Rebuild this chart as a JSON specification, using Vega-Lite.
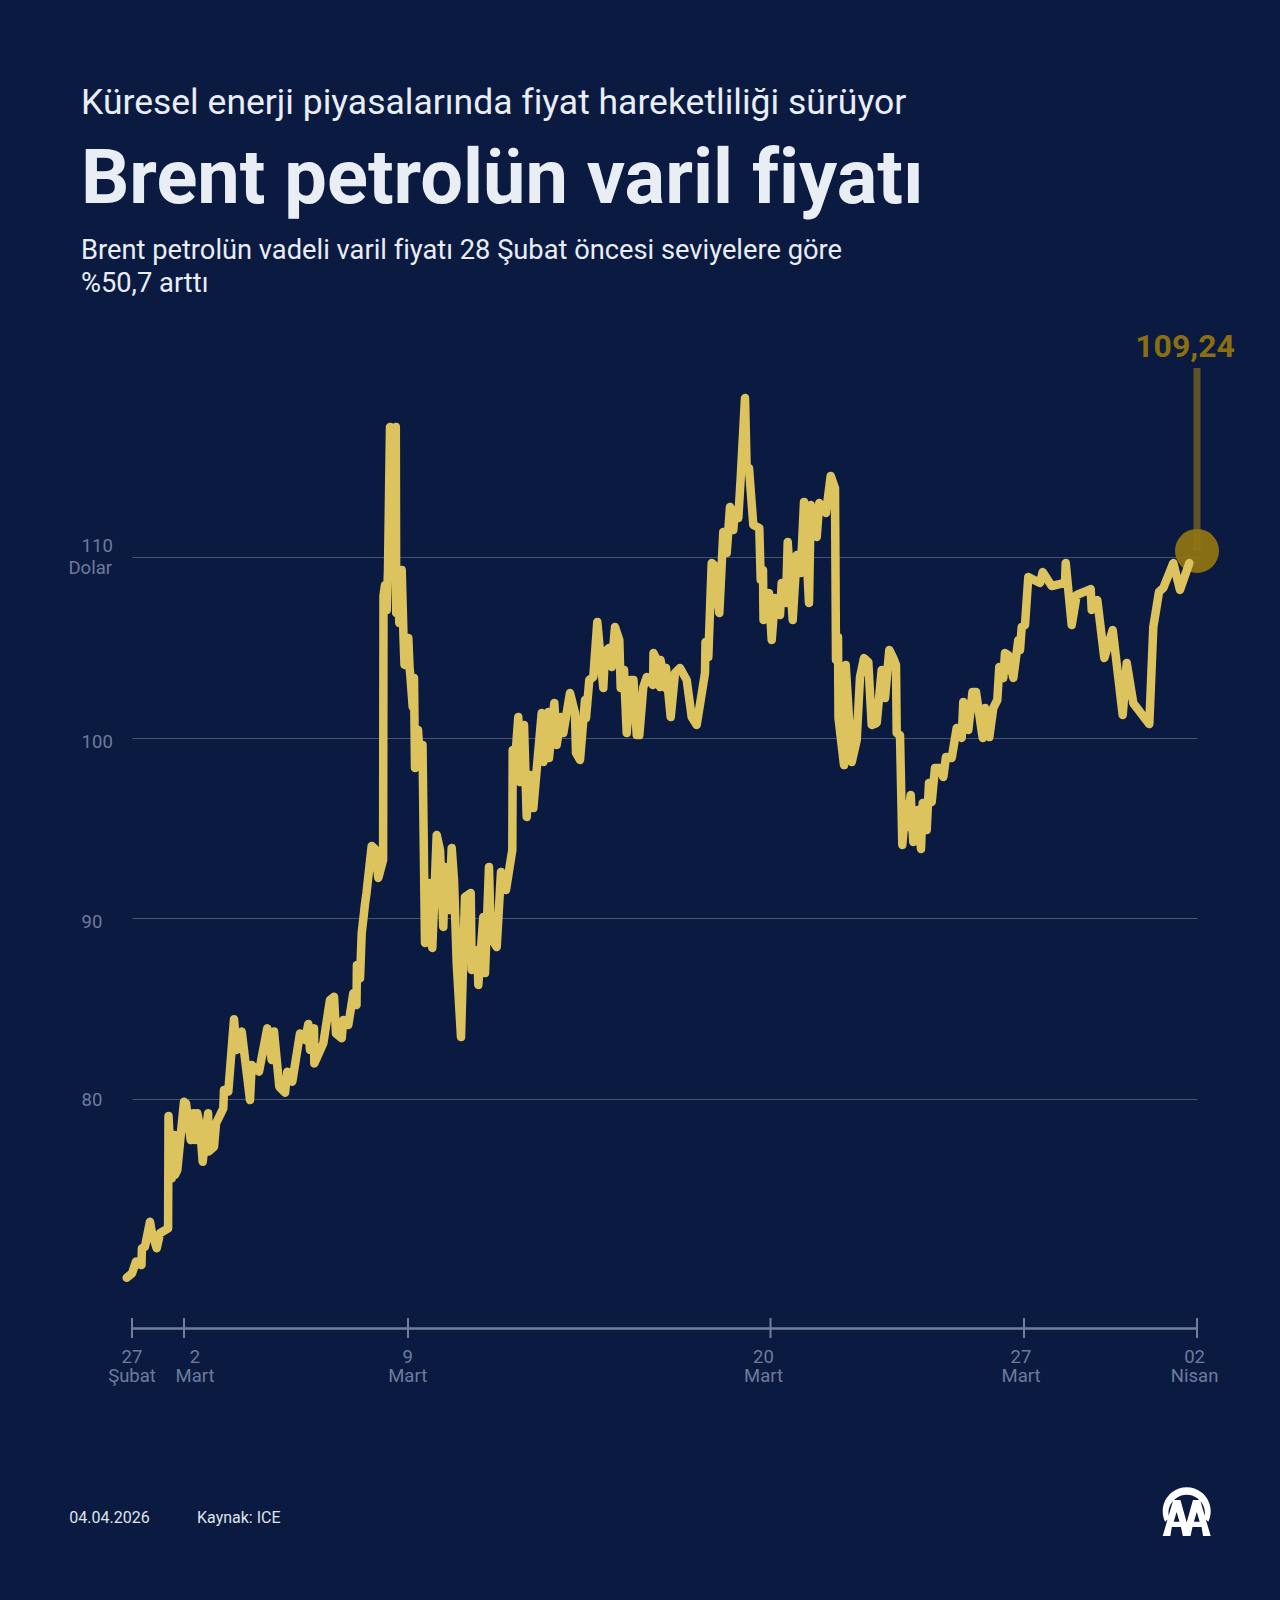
{
  "$schema": "https://vega.github.io/schema/vega-lite/v6.json",
  "background": "#0b1a41",
  "autosize": "none",
  "padding": {"left": 132, "right": 83, "top": 300, "bottom": 272},
  "width": 1065,
  "height": 1028,
  "config": {"view": {"stroke": null}, "font": "Roboto"},
  "datasets": {
    "brent": [
      {"t":-5.3,"price":70.11},{"t":0,"price":70.35},{"t":4,"price":71.0},{"t":9.5,"price":70.81},{"t":9.9,"price":71.74},{"t":13,"price":71.83},{"t":18,"price":73.21},{"t":20,"price":72.57},{"t":24.7,"price":71.74},{"t":28,"price":72.57},{"t":36.1,"price":72.84},{"t":36.5,"price":79.06},{"t":39.7,"price":75.61},{"t":42.3,"price":78.01},{"t":43,"price":75.79},{"t":45.3,"price":76.07},{"t":52,"price":79.85},{"t":54,"price":79.76},{"t":58.7,"price":77.73},{"t":61.3,"price":79.21},{"t":63,"price":77.73},{"t":65.3,"price":79.21},{"t":68,"price":78.47},{"t":70.7,"price":76.53},{"t":76.1,"price":79.21},{"t":76.5,"price":77.09},{"t":82,"price":77.36},{"t":84,"price":78.65},{"t":91.3,"price":79.48},{"t":92,"price":80.5},{"t":96.3,"price":80.41},{"t":102,"price":84.41},{"t":104.7,"price":82.71},{"t":109.7,"price":83.73},{"t":118,"price":79.94},{"t":119.7,"price":81.88},{"t":127,"price":81.51},{"t":135.3,"price":83.91},{"t":139.7,"price":82.16},{"t":142,"price":83.73},{"t":147.3,"price":80.68},{"t":153,"price":80.35},{"t":155.3,"price":81.51},{"t":160.3,"price":80.96},{"t":168,"price":83.63},{"t":173,"price":83.27},{"t":176.3,"price":84.15},{"t":178,"price":82.71},{"t":182,"price":83.91},{"t":182.3,"price":81.97},{"t":191.3,"price":83.08},{"t":198,"price":85.48},{"t":202,"price":85.66},{"t":204,"price":83.63},{"t":209.7,"price":83.36},{"t":211.3,"price":84.37},{"t":216.3,"price":84.1},{"t":221.3,"price":85.85},{"t":224.5,"price":85.2},{"t":224.9,"price":87.42},{"t":228,"price":86.68},{"t":229.7,"price":89.17},{"t":233,"price":90.79},{"t":234.5,"price":91.4},{"t":239.7,"price":94.0},{"t":243,"price":93.84},{"t":246.3,"price":92.23},{"t":251.1,"price":93.23},{"t":251.5,"price":107.84},{"t":253,"price":108.44},{"t":254.7,"price":107.06},{"t":256,"price":109.27},{"t":258,"price":117.19},{"t":261,"price":112.04},{"t":263.8,"price":117.19},{"t":264.2,"price":106.9},{"t":265.5,"price":109.27},{"t":267.3,"price":106.34},{"t":269.7,"price":109.27},{"t":271.5,"price":105.57},{"t":272.5,"price":104.02},{"t":276.3,"price":105.51},{"t":277.5,"price":103.91},{"t":278.5,"price":103.35},{"t":280.7,"price":101.69},{"t":282,"price":103.3},{"t":283,"price":98.32},{"t":286,"price":100.42},{"t":288,"price":98.76},{"t":290.5,"price":99.59},{"t":293,"price":88.63},{"t":296.3,"price":91.95},{"t":300.3,"price":88.36},{"t":304.7,"price":94.61},{"t":308,"price":93.78},{"t":311.3,"price":89.52},{"t":313,"price":92.84},{"t":317.3,"price":90.46},{"t":319.7,"price":93.89},{"t":322,"price":92.12},{"t":324.7,"price":87.53},{"t":329,"price":83.43},{"t":333,"price":91.18},{"t":338.7,"price":91.4},{"t":339.7,"price":87.14},{"t":345.3,"price":88.25},{"t":346.3,"price":86.31},{"t":351.3,"price":90.07},{"t":353,"price":86.97},{"t":357,"price":92.84},{"t":358.7,"price":88.97},{"t":364.7,"price":88.41},{"t":369,"price":92.56},{"t":374,"price":91.57},{"t":380.3,"price":93.78},{"t":380.7,"price":99.31},{"t":381.5,"price":97.54},{"t":386.3,"price":101.14},{"t":388,"price":97.54},{"t":392,"price":100.7},{"t":394.7,"price":95.61},{"t":398,"price":97.93},{"t":401.3,"price":96.1},{"t":409.7,"price":101.36},{"t":411.3,"price":98.65},{"t":416.3,"price":101.42},{"t":417,"price":98.87},{"t":422.3,"price":101.91},{"t":424.7,"price":99.59},{"t":428.7,"price":101.14},{"t":431.3,"price":100.25},{"t":438,"price":102.47},{"t":443,"price":101.36},{"t":444,"price":99.15},{"t":448,"price":98.76},{"t":453,"price":102.08},{"t":454,"price":101.08},{"t":457.3,"price":103.19},{"t":461.3,"price":103.35},{"t":465.3,"price":106.4},{"t":471.3,"price":102.74},{"t":473,"price":104.74},{"t":477,"price":104.96},{"t":479.7,"price":103.91},{"t":483,"price":106.12},{"t":487.3,"price":105.4},{"t":488.7,"price":102.74},{"t":492,"price":103.74},{"t":494.7,"price":100.25},{"t":498.7,"price":103.19},{"t":501.5,"price":103.19},{"t":504.7,"price":100.14},{"t":507.3,"price":100.14},{"t":511.3,"price":102.8},{"t":514.7,"price":103.35},{"t":521,"price":102.91},{"t":521.5,"price":104.68},{"t":524,"price":104.4},{"t":528,"price":102.8},{"t":528.5,"price":104.29},{"t":533.5,"price":102.74},{"t":534,"price":103.85},{"t":538.7,"price":101.14},{"t":543,"price":103.57},{"t":548,"price":103.85},{"t":554.7,"price":103.19},{"t":559.7,"price":101.14},{"t":564.7,"price":100.7},{"t":573,"price":103.57},{"t":573.5,"price":105.29},{"t":576.3,"price":104.46},{"t":579.7,"price":109.66},{"t":582,"price":109.55},{"t":587.3,"price":106.9},{"t":591.3,"price":111.38},{"t":594.7,"price":110.22},{"t":598,"price":112.76},{"t":601.3,"price":111.49},{"t":603,"price":112.6},{"t":606.3,"price":112.15},{"t":608.7,"price":114.37},{"t":613,"price":118.79},{"t":614.7,"price":114.81},{"t":617,"price":114.92},{"t":621.3,"price":111.77},{"t":627.3,"price":111.6},{"t":628.7,"price":108.72},{"t":631,"price":109.27},{"t":631.5,"price":106.51},{"t":637,"price":108.0},{"t":639.7,"price":105.4},{"t":643,"price":107.73},{"t":648,"price":106.78},{"t":649.7,"price":108.56},{"t":654,"price":107.45},{"t":655.7,"price":110.82},{"t":660.7,"price":106.51},{"t":664.7,"price":110.1},{"t":668.7,"price":109.11},{"t":672,"price":113.04},{"t":677,"price":107.45},{"t":678.7,"price":112.87},{"t":684.7,"price":111.1},{"t":687.3,"price":112.98},{"t":694,"price":112.43},{"t":698.7,"price":114.48},{"t":703,"price":113.81},{"t":704,"price":104.29},{"t":706,"price":105.57},{"t":706.5,"price":101.08},{"t":712,"price":98.48},{"t":713.7,"price":104.02},{"t":719.7,"price":98.65},{"t":724.7,"price":99.87},{"t":728,"price":103.35},{"t":732,"price":104.4},{"t":736.3,"price":104.18},{"t":739.7,"price":100.7},{"t":744.7,"price":100.81},{"t":749.7,"price":103.74},{"t":753,"price":102.19},{"t":757.3,"price":104.85},{"t":761.3,"price":104.4},{"t":764,"price":104.02},{"t":764.7,"price":100.25},{"t":768,"price":100.14},{"t":770.3,"price":94.06},{"t":773.7,"price":96.27},{"t":775.3,"price":95.05},{"t":778.7,"price":96.82},{"t":781.3,"price":94.22},{"t":785.7,"price":95.99},{"t":789,"price":93.84},{"t":790.7,"price":96.38},{"t":794.7,"price":94.89},{"t":797,"price":97.49},{"t":799.7,"price":96.44},{"t":803,"price":98.32},{"t":808,"price":98.32},{"t":811.3,"price":97.82},{"t":814,"price":98.93},{"t":819.7,"price":98.87},{"t":824.7,"price":100.53},{"t":829.7,"price":99.98},{"t":831.3,"price":101.97},{"t":836.3,"price":100.42},{"t":840.5,"price":102.52},{"t":844,"price":102.52},{"t":850.7,"price":99.98},{"t":853,"price":101.64},{"t":857.3,"price":100.03},{"t":861.3,"price":101.64},{"t":865.3,"price":102.08},{"t":867.3,"price":103.91},{"t":871.3,"price":103.3},{"t":873,"price":104.68},{"t":876.3,"price":104.57},{"t":881.3,"price":103.3},{"t":886.3,"price":105.4},{"t":888,"price":104.85},{"t":889.7,"price":106.12},{"t":893,"price":106.23},{"t":896.3,"price":108.89},{"t":908,"price":108.56},{"t":910.7,"price":109.16},{"t":919.7,"price":108.39},{"t":933,"price":108.56},{"t":933.7,"price":109.66},{"t":939.7,"price":106.23},{"t":944.7,"price":107.89},{"t":958.7,"price":108.22},{"t":959.7,"price":107.06},{"t":965.3,"price":107.61},{"t":972.3,"price":104.4},{"t":980.7,"price":105.95},{"t":990.7,"price":101.25},{"t":994.7,"price":104.13},{"t":1001.3,"price":101.91},{"t":1017.3,"price":100.75},{"t":1021.3,"price":106.12},{"t":1027,"price":108.06},{"t":1031.3,"price":108.28},{"t":1041.3,"price":109.66},{"t":1048,"price":108.17},{"t":1057.3,"price":109.66}
    ]
  },
  "data": {"name": "brent"},
  "encoding": {
    "x": {
      "field": "t",
      "type": "quantitative",
      "scale": {"domain": [0, 1065], "nice": false, "zero": false},
      "axis": {
        "title": null,
        "values": [0, 52, 276, 638.5, 892, 1065],
        "labels": false,
        "ticks": false,
        "grid": false,
        "domainColor": "#727e9c",
        "domainWidth": 2.5
      }
    },
    "y": {
      "field": "price",
      "type": "quantitative",
      "scale": {"domain": [67.327, 124.217], "nice": false, "zero": false},
      "axis": {
        "title": null,
        "values": [80, 90, 100, 110],
        "grid": true,
        "gridColor": "#475373",
        "gridWidth": 1,
        "domain": false,
        "ticks": false,
        "labels": false
      }
    }
  },
  "layer": [
    {
      "data": {"values": [
        {"t": 0, "price": 66.77, "price2": 67.88},
        {"t": 52, "price": 66.77, "price2": 67.88},
        {"t": 276, "price": 66.77, "price2": 67.88},
        {"t": 638.5, "price": 66.77, "price2": 67.88},
        {"t": 892, "price": 66.77, "price2": 67.88},
        {"t": 1065, "price": 66.77, "price2": 67.88}
      ]},
      "mark": {"type": "rule", "color": "#727e9c", "strokeWidth": 2},
      "encoding": {"y2": {"field": "price2"}}
    },
    {
      "data": {"values": [{"t": 1065, "price": 110.33, "price2": 120.45}]},
      "mark": {"type": "rule", "color": "#5e5228", "strokeWidth": 7},
      "encoding": {"y2": {"field": "price2"}}
    },
    {
      "data": {"values": [{"t": 1065, "price": 110.33}]},
      "mark": {"type": "circle", "color": "#927511", "opacity": 0.92, "size": 1936}
    },
    {
      "mark": {"type": "line", "color": "#dcc35e", "strokeWidth": 8.5, "strokeJoin": "round", "strokeCap": "round", "clip": false}
    },
    {
      "data": {"values": [{"t": 1053, "price": 121.62, "label": "109,24"}]},
      "mark": {"type": "text", "color": "#8a6e10", "font": "Roboto", "fontWeight": "bold", "fontSize": 32, "baseline": "middle"},
      "encoding": {"text": {"field": "label"}}
    },
    {
      "data": {"values": [
        {"t": 0, "price": 66.22, "label": "27\nŞubat"},
        {"t": 63, "price": 66.22, "label": "2\nMart"},
        {"t": 275.7, "price": 66.22, "label": "9\nMart"},
        {"t": 631.5, "price": 66.22, "label": "20\nMart"},
        {"t": 889, "price": 66.22, "label": "27\nMart"},
        {"t": 1062.6, "price": 66.22, "label": "02\nNisan"}
      ]},
      "mark": {"type": "text", "color": "#6e7b9d", "font": "Roboto", "fontSize": 18.5, "lineBreak": "\n", "lineHeight": 19, "align": "center", "baseline": "top"},
      "encoding": {"text": {"field": "label"}}
    },
    {
      "data": {"values": [
        {"t": -50.4, "price": 110.6, "label": "110"},
        {"t": -50.4, "price": 99.76, "label": "100"},
        {"t": -50.4, "price": 89.82, "label": "90"},
        {"t": -50.4, "price": 79.95, "label": "80"}
      ]},
      "mark": {"type": "text", "color": "#6e7b9d", "font": "Roboto", "fontSize": 18.5, "align": "left", "baseline": "middle"},
      "encoding": {"text": {"field": "label"}}
    },
    {
      "data": {"values": [{"t": -20, "price": 109.39, "label": "Dolar"}]},
      "mark": {"type": "text", "color": "#6e7b9d", "font": "Roboto", "fontSize": 18.5, "align": "right", "baseline": "middle"},
      "encoding": {"text": {"field": "label"}}
    },
    {
      "data": {"values": [{"t": -51, "price": 134.5, "label": "Küresel enerji piyasalarında f‌iyat hareketliliği sürüyor"}]},
      "mark": {"type": "text", "color": "#e9edf4", "font": "Roboto", "fontSize": 35.5, "align": "left", "baseline": "alphabetic"},
      "encoding": {"text": {"field": "label"}}
    },
    {
      "data": {"values": [{"t": -51, "price": 129.6, "label": "Brent petrolün varil f‌iyatı"}]},
      "mark": {"type": "text", "color": "#e9edf4", "font": "Roboto", "fontWeight": "bold", "fontSize": 75.8, "align": "left", "baseline": "alphabetic"},
      "encoding": {"text": {"field": "label"}}
    },
    {
      "data": {"values": [
        {"t": -51, "price": 126.47, "label": "Brent petrolün vadeli varil f‌iyatı 28 Şubat öncesi seviyelere göre"},
        {"t": -51, "price": 124.68, "label": "%50,7 arttı"}
      ]},
      "mark": {"type": "text", "color": "#e9edf4", "font": "Roboto", "fontSize": 27.27, "align": "left", "baseline": "alphabetic"},
      "encoding": {"text": {"field": "label"}}
    },
    {
      "data": {"values": [
        {"t": -62.7, "price": 56.81, "label": "04.04.2026"},
        {"t": 65, "price": 56.81, "label": "Kaynak: ICE"}
      ]},
      "mark": {"type": "text", "color": "#dfe3ea", "font": "Roboto", "fontSize": 16, "align": "left", "baseline": "middle"},
      "encoding": {"text": {"field": "label"}}
    },
    {
      "data": {"values": [{"t": 1054.7, "price": 57.14}]},
      "mark": {
        "type": "point",
        "filled": true,
        "color": "#ffffff",
        "opacity": 1,
        "size": 2304,
        "shape": "M-0.9 0.4A1 1 0 1 1 0.9 0.4L0.73 0.25A0.76 0.76 0 1 0 -0.73 0.25ZM-1 1L-0.56 -0.5L-0.26 -0.5L0.16 1L-0.16 1L-0.24 0.62L-0.62 0.62L-0.68 1ZM-0.42 0L-0.54 0.4L-0.3 0.4ZM-0.16 1L0.26 -0.5L0.56 -0.5L1 1L0.68 1L0.62 0.62L0.24 0.62L0.16 1ZM0.42 0L0.3 0.4L0.54 0.4Z"
      }
    }
  ]
}
